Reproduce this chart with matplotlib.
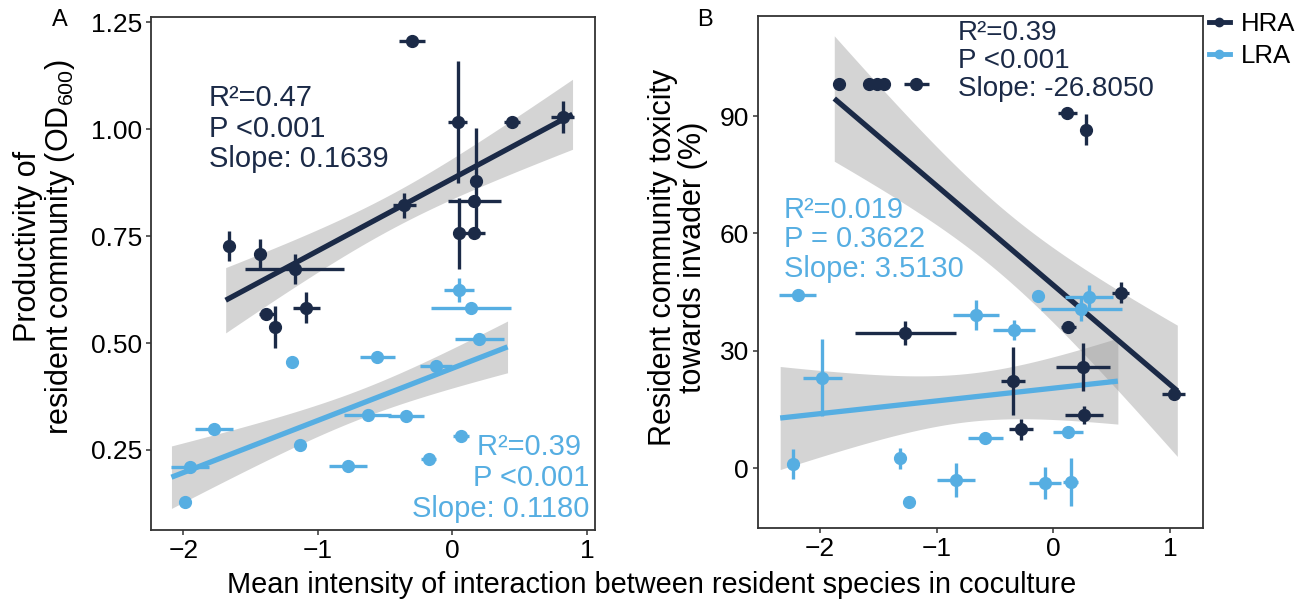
import numpy as np
import matplotlib
matplotlib.use("Agg")
import matplotlib.pyplot as plt
from matplotlib.lines import Line2D

plt.rcParams['font.family'] = ['Liberation Sans', 'DejaVu Sans']
plt.rcParams['mathtext.fontset'] = 'custom'
plt.rcParams['mathtext.rm'] = 'Liberation Sans'
plt.rcParams['axes.unicode_minus'] = True

NAVY = '#1b2a47'
BLUE = '#56aee2'

# ---------------- Panel A data ----------------
a_hra_x    = [-0.30, 0.04, 0.44, 0.82, 0.176, 0.163, 0.163, 0.052, -0.356, -1.663, -1.428, -1.173, -1.383, -1.32, -1.086]
a_hra_y    = [1.206, 1.016, 1.016, 1.029, 0.878, 0.832, 0.756, 0.756, 0.822, 0.727, 0.707, 0.672, 0.569, 0.537, 0.583]
a_hra_xerr = [0.10, 0.07, 0.06, 0.087, 0.0, 0.198, 0.08, 0.0, 0.087, 0.0, 0.0, 0.371, 0.056, 0.0, 0.099]
a_hra_yerr = [0.0, 0.143, 0.0, 0.037, 0.124, 0.0, 0.0, 0.082, 0.029, 0.035, 0.035, 0.035, 0.0, 0.049, 0.037]

a_lra_x    = [0.052, 0.139, 0.20, -1.19, -0.56, -0.121, -0.629, -0.344, -1.772, -1.136, 0.064, -0.175, -0.777, -1.953, -1.99]
a_lra_y    = [0.624, 0.583, 0.509, 0.456, 0.468, 0.446, 0.332, 0.330, 0.298, 0.262, 0.283, 0.229, 0.213, 0.211, 0.128]
a_lra_xerr = [0.111, 0.297, 0.18, 0.0, 0.13, 0.118, 0.173, 0.136, 0.142, 0.0, 0.06, 0.056, 0.14, 0.142, 0.0]
a_lra_yerr = [0.029, 0.0, 0.0, 0.0, 0.0, 0.0, 0.0, 0.0, 0.0, 0.0, 0.0, 0.0, 0.0, 0.0, 0.0]

# fitted-line x ranges (from the picture)
a_hra_fit_range = [-1.685, 0.893]
a_lra_fit_range = [-2.088, 0.41]

# ---------------- Panel B data ----------------
b_hra_x    = [-1.84, -1.583, -1.511, -1.448, -1.174, 0.117, 0.274, 0.574, 0.126, -1.268, -0.346, 0.254, 0.26, -0.277, 1.03]
b_hra_y    = [98.2, 98.2, 98.2, 98.2, 98.2, 90.9, 86.5, 44.9, 36.1, 34.6, 22.3, 25.8, 13.6, 9.9, 18.9]
b_hra_xerr = [0.0, 0.0, 0.0, 0.0, 0.107, 0.08, 0.0, 0.07, 0.064, 0.43, 0.10, 0.23, 0.16, 0.10, 0.10]
b_hra_yerr = [0.0, 0.0, 0.0, 0.0, 0.0, 0.0, 4.0, 2.8, 0.0, 3.0, 8.7, 6.1, 2.2, 2.6, 0.0]

b_lra_x    = [-2.19, -0.131, 0.303, 0.237, -0.66, -0.34, -1.98, -0.583, 0.126, -2.23, -1.31, -1.24, -0.834, -0.075, 0.146]
b_lra_y    = [44.2, 44.1, 43.7, 40.8, 39.1, 35.3, 23.1, 7.6, 9.3, 1.0, 2.5, -8.6, -3.1, -3.8, -3.5]
b_lra_xerr = [0.157, 0.0, 0.207, 0.346, 0.197, 0.18, 0.167, 0.147, 0.13, 0.0, 0.0, 0.0, 0.16, 0.136, 0.066]
b_lra_yerr = [0.0, 0.0, 3.2, 3.2, 3.8, 2.6, 9.8, 0.0, 0.0, 3.8, 2.7, 0.0, 4.3, 4.0, 6.1]

b_hra_fit_range = [-1.877, 1.06]
b_lra_fit_range = [-2.34, 0.551]

N_REPLICATES = 3   # replicate cultures behind each plotted mean

a_texts = {
    'hra': "R\u00b2=0.47\nP <0.001\nSlope: 0.1639",
    'lra': "R\u00b2=0.39 \nP <0.001\nSlope: 0.1180",
}
b_texts = {
    'hra': "R\u00b2=0.39\nP <0.001\nSlope: -26.8050",
    'lra': "R\u00b2=0.019\nP = 0.3622\nSlope: 3.5130",
}

T975_DF43 = 2.017


def fit_band(ax, x, y, xr, color):
    x = np.repeat(np.asarray(x), N_REPLICATES)
    y = np.repeat(np.asarray(y), N_REPLICATES)
    n = len(x)
    b, a = np.polyfit(x, y, 1)
    res = y - (a + b * x)
    s = np.sqrt(np.sum(res ** 2) / (n - 2))
    xm = x.mean(); sxx = np.sum((x - xm) ** 2)
    xs = np.linspace(xr[0], xr[1], 100)
    ys = a + b * xs
    se = s * np.sqrt(1.0 / n + (xs - xm) ** 2 / sxx)
    ax.fill_between(xs, ys - T975_DF43 * se, ys + T975_DF43 * se, color='#999999', alpha=0.42,
                    lw=0, zorder=1)
    ax.plot(xs, ys, color=color, lw=3.8, solid_capstyle='butt', zorder=4)


def points(ax, x, y, xe, ye, color):
    ax.errorbar(x, y, xerr=xe, yerr=ye, fmt='o', color=color, ms=8.5,
                elinewidth=2.4, capsize=0, zorder=5)


fig = plt.figure(figsize=(13.08, 6.10), dpi=100)
axA = fig.add_axes([151 / 1308, 1 - 530 / 610, 444 / 1308, 513 / 610])
axB = fig.add_axes([758 / 1308, 1 - 528 / 610, 445 / 1308, 512 / 610])

# Panel A
fit_band(axA, a_hra_x, a_hra_y, a_hra_fit_range, NAVY)
fit_band(axA, a_lra_x, a_lra_y, a_lra_fit_range, BLUE)
points(axA, a_hra_x, a_hra_y, a_hra_xerr, a_hra_yerr, NAVY)
points(axA, a_lra_x, a_lra_y, a_lra_xerr, a_lra_yerr, BLUE)
axA.set_xlim(-2.24, 1.06)
axA.set_ylim(0.063, 1.262)
axA.set_xticks([-2, -1, 0, 1])
axA.set_yticks([0.25, 0.50, 0.75, 1.00, 1.25])
axA.set_yticklabels(['0.25', '0.50', '0.75', '1.00', '1.25'])
axA.text(-1.81, 1.105, a_texts['hra'], color=NAVY, fontsize=21, ha='left', va='top',
         linespacing=1.12, zorder=6)
axA.text(1.02, 0.080, a_texts['lra'], color=BLUE, fontsize=21, ha='right', va='bottom',
         multialignment='right', linespacing=1.12, zorder=6)
axA.set_ylabel("Productivity of\nresident community (OD$_{600}$)", fontsize=22, linespacing=1.0)
axA.yaxis.set_label_coords(-0.167, 0.552)

# Panel B
fit_band(axB, b_hra_x, b_hra_y, b_hra_fit_range, NAVY)
fit_band(axB, b_lra_x, b_lra_y, b_lra_fit_range, BLUE)
points(axB, b_hra_x, b_hra_y, b_hra_xerr, b_hra_yerr, NAVY)
points(axB, b_lra_x, b_lra_y, b_lra_xerr, b_lra_yerr, BLUE)
axB.set_xlim(-2.53, 1.28)
axB.set_ylim(-15.3, 115.6)
axB.set_xticks([-2, -1, 0, 1])
axB.set_yticks([0, 30, 60, 90])
axB.text(-0.82, 114.6, b_texts['hra'], color=NAVY, fontsize=20, ha='left', va='top',
         linespacing=1.1, zorder=6)
axB.text(-2.31, 69.5, b_texts['lra'], color=BLUE, fontsize=21, ha='left', va='top',
         linespacing=1.05, zorder=6)
axB.set_ylabel("Resident community toxicity\ntowards invader (%)", fontsize=22, linespacing=1.0)
axB.yaxis.set_label_coords(-0.112, 0.529)

for ax in (axA, axB):
    for sp in ax.spines.values():
        sp.set_color('#333333')
        sp.set_linewidth(1.3)
    ax.tick_params(axis='both', labelsize=19, length=3.5, width=1.1, color='#333333',
                   labelcolor='black', pad=3)

fig.text(652 / 1308, 1 - 585 / 610, "Mean intensity of interaction between resident species in coculture",
         fontsize=20.8, ha='center', va='center')
fig.text(60 / 1308, 1 - 20 / 610, "A", fontsize=17, ha='center', va='center')
fig.text(705 / 1308, 1 - 20 / 610, "B", fontsize=17, ha='center', va='center')

handles = [Line2D([0], [0], color=NAVY, lw=3.5, marker='o', ms=6),
           Line2D([0], [0], color=BLUE, lw=3.5, marker='o', ms=6)]
fig.legend(handles, ['HRA', 'LRA'], loc='upper left', bbox_to_anchor=(1204 / 1308, 1 - 7 / 610),
           frameon=False, fontsize=18.5, handlelength=0.8, handletextpad=0.45, labelspacing=0.3,
           borderaxespad=0.0, borderpad=0.2)

fig.savefig('out.png', dpi=100)
